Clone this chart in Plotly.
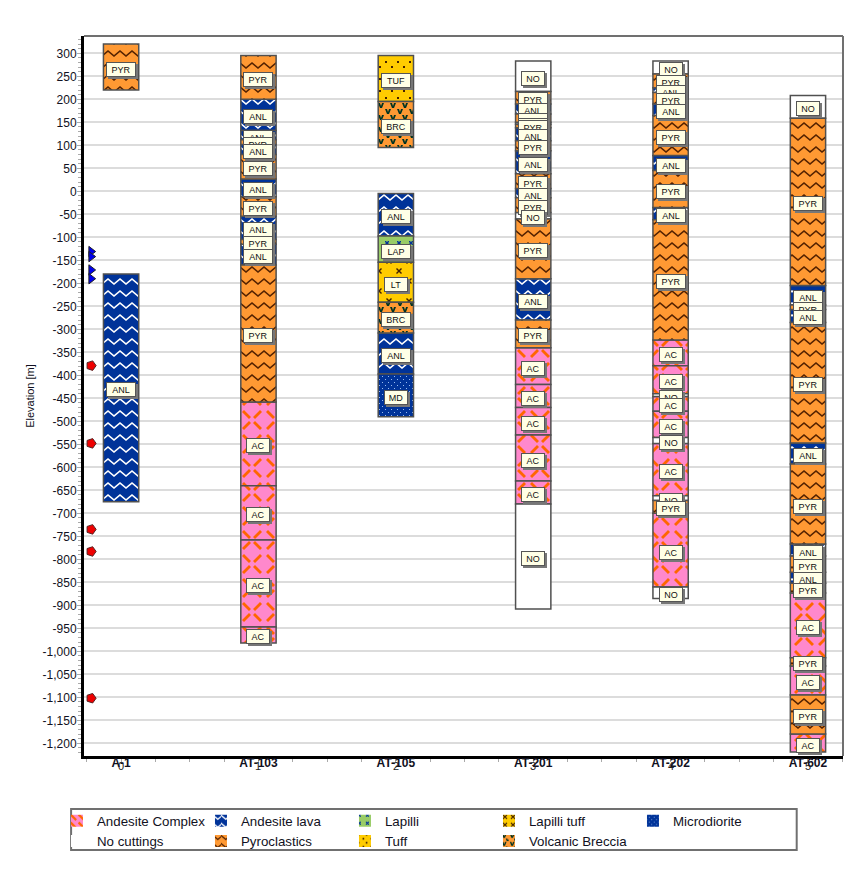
import plotly.graph_objects as go

# well names along the x axis
wells = ["A-1", "AT-103", "AT-105", "AT-201", "AT-202", "AT-602"]

# intervals per well: top elevation, bottom elevation, rock code
a1_tops = [320, -180]
a1_bottoms = [220, -675]
a1_codes = ["PYR", "ANL"]

at103_tops = [295, 200, 132, 112, 102, 80, 27, -12, -54, -105, -115, -160, -458, -640, -758, -947]
at103_bottoms = [200, 132, 112, 102, 80, 27, -12, -54, -105, -115, -160, -458, -640, -758, -947, -982]
at103_codes = ["PYR", "ANL", "ANL", "PYR", "ANL", "PYR", "ANL", "PYR", "ANL", "PYR", "ANL", "PYR", "AC", "AC", "AC", "AC"]

at105_tops = [295, 195, -5, -97, -154, -241, -308, -397]
at105_bottoms = [195, 95, -97, -154, -241, -308, -397, -490]
at105_codes = ["TUF", "BRC", "ANL", "LAP", "LT", "BRC", "ANL", "MD"]

at201_tops = [283, 217, 190, 168, 150, 146, 138, 110, 88, 38, 6, -14, -46, -60, -190, -280, -340, -420, -470, -530, -630, -680]
at201_bottoms = [217, 190, 168, 150, 146, 138, 110, 88, 38, 6, -14, -46, -60, -190, -280, -340, -420, -470, -530, -630, -680, -908]
at201_codes = ["NO", "PYR", "ANL", "PYR", "ANL", "PYR", "ANL", "PYR", "ANL", "PYR", "ANL", "PYR", "NO", "PYR", "ANL", "PYR", "AC", "AC", "AC", "AC", "AC", "NO"]

at202_tops = [283, 255, 225, 215, 190, 165, 78, 45, -35, -62, -323, -379, -440, -446, -478, -535, -548, -662, -672, -700, -860]
at202_bottoms = [255, 225, 215, 190, 165, 78, 45, -35, -62, -323, -379, -440, -446, -478, -535, -548, -662, -672, -700, -860, -885]
at202_codes = ["NO", "PYR", "ANL", "PYR", "ANL", "PYR", "ANL", "PYR", "ANL", "PYR", "AC", "AC", "NO", "AC", "AC", "NO", "AC", "NO", "PYR", "AC", "NO"]

at602_tops = [208, 159, -205, -247, -257, -285, -547, -593, -767, -793, -828, -852, -873, -1014, -1032, -1095, -1180]
at602_bottoms = [159, -205, -247, -257, -285, -547, -593, -767, -793, -828, -852, -873, -1014, -1032, -1095, -1180, -1219]
at602_codes = ["NO", "PYR", "ANL", "PYR", "ANL", "PYR", "ANL", "PYR", "ANL", "PYR", "ANL", "PYR", "AC", "PYR", "AC", "PYR", "AC"]

# flags on the left of the plot
blue_flags = [-131, -142, -171, -190]
red_flags = [-379, -548, -735, -783, -1102]

# legend order, row by row
legend_codes = ["AC", "ANL", "LAP", "LT", "MD", "NO", "PYR", "TUF", "BRC"]
legend_names = ["Andesite Complex", "Andesite lava", "Lapilli", "Lapilli tuff", "Microdiorite",
                "No cuttings", "Pyroclastics", "Tuff", "Volcanic Breccia"]

tick_vals = list(range(-1200, 301, 50))
tick_text = [f"{v:,}" for v in tick_vals]

# hatch tiles, drawn as filled svg paths
zigzag = "M0,2 L6,7 L12,2 L12,4 L6,9 L0,4 Z"
dashes = ("M1,3 L3,1 L10,8 L8,10 Z M14,8 L21,1 L23,3 L16,10 Z "
          "M1,21 L8,14 L10,16 L3,23 Z M14,16 L16,14 L23,21 L21,23 Z")
crosses = "M1,1 L2,1 L3,2 L4,1 L5,1 L5,2 L4,3 L5,4 L5,5 L4,5 L3,4 L2,5 L1,5 L1,4 L2,3 L1,2 Z"
big_crosses = ("M2,3 L3,2 L5,4 L7,2 L8,3 L6,5 L8,7 L7,8 L5,6 L3,8 L2,7 L4,5 Z "
               "M12,13 L13,12 L15,14 L17,12 L18,13 L16,15 L18,17 L17,18 L15,16 L13,18 L12,17 L14,15 Z")
dots = "M1,1 H3 V3 H1 Z M7,6 H9 V8 H7 Z"
breccia = "M1,1 L3,1 L4,4 L5,1 L7,1 L5,6 L3,6 Z M6,7 L8,7 L9,10 L10,7 L12,7 L10,12 L8,12 Z"
fine_dots = "M1,1 H2 V2 H1 Z M4,4 H5 V5 H4 Z"

styles = {
    "AC": dict(bgcolor="#FF88CC", fgcolor="#FF6600", path=dashes, size=24),
    "ANL": dict(bgcolor="#003399", fgcolor="#FFFFFF", path=zigzag, size=12),
    "LAP": dict(bgcolor="#99CC66", fgcolor="#003399", path=crosses, size=12),
    "LT": dict(bgcolor="#FFCC00", fgcolor="#442200", path=big_crosses, size=20),
    "MD": dict(bgcolor="#003399", fgcolor="#99BBEE", path=fine_dots, size=6),
    "NO": dict(bgcolor="#FFFFFF", fgcolor="#FFFFFF", path=fine_dots, size=6),
    "PYR": dict(bgcolor="#FF9933", fgcolor="#552200", path=zigzag, size=12),
    "TUF": dict(bgcolor="#FFCC00", fgcolor="#442200", path=dots, size=12),
    "BRC": dict(bgcolor="#FF9933", fgcolor="#003322", path=breccia, size=12),
}

columns = [
    (a1_tops, a1_bottoms, a1_codes),
    (at103_tops, at103_bottoms, at103_codes),
    (at105_tops, at105_bottoms, at105_codes),
    (at201_tops, at201_bottoms, at201_codes),
    (at202_tops, at202_bottoms, at202_codes),
    (at602_tops, at602_bottoms, at602_codes),
]

fig = go.Figure()

# one bar trace per rock type
for code, name in zip(legend_codes, legend_names):
    xs, bases, heights = [], [], []
    for i, (tops, bottoms, codes) in enumerate(columns):
        for top, bottom, c in zip(tops, bottoms, codes):
            if c == code:
                xs.append(i)
                bases.append(bottom)
                heights.append(top - bottom)
    fig.add_trace(go.Bar(
        x=xs, y=heights, base=bases, width=0.257, name=name, showlegend=False,
        marker=dict(color=styles[code]["bgcolor"], pattern=dict(solidity=1, fgopacity=1, **styles[code]),
                    line=dict(color="#505050", width=1.5)),
    ))

# legend swatches without the outline the bars have
for code, name in zip(legend_codes, legend_names):
    fig.add_trace(go.Bar(
        x=[None], y=[None], name=name,
        marker=dict(color=styles[code]["bgcolor"], pattern=dict(solidity=1, fgopacity=1, **styles[code]),
                    line=dict(width=0)),
    ))

fig.add_trace(go.Scatter(
    x=[-0.218] * len(blue_flags), y=blue_flags, mode="markers", showlegend=False,
    marker=dict(symbol="triangle-right", size=9, color="#0000EE", line=dict(color="#222222", width=1)),
))
fig.add_trace(go.Scatter(
    x=[-0.218] * len(red_flags), y=red_flags, mode="markers", showlegend=False,
    marker=dict(symbol="pentagon", angle=90, size=10, color="#EE0000", line=dict(color="#552222", width=1)),
))

# rock code labels at the middle of each interval, lower ones on top
label_font = dict(family="Liberation Sans", size=9, color="#111111")
for i, (tops, bottoms, codes) in enumerate(columns):
    for top, bottom, c in zip(tops, bottoms, codes):
        mid = (top + bottom) / 2
        box_w = 26 if len(c) == 3 else 20
        fig.add_annotation(x=i, y=mid, text=" ", showarrow=False, xshift=2, yshift=-4, width=box_w, height=11,
                           bgcolor="#777777", font=label_font, borderwidth=1, bordercolor="#777777")
        fig.add_annotation(x=i, y=mid, text=c, showarrow=False, yshift=-2, width=box_w, height=11,
                           bgcolor="#FFFFE6", font=label_font, borderwidth=1, bordercolor="#555555")

# small index numbers sitting under the well names
for i in range(len(wells)):
    fig.add_annotation(x=i, y=0, yref="paper", yanchor="top", yshift=-2, text=str(i), showarrow=False,
                       font=dict(family="Liberation Sans", size=11, color="#222222"))

# top and right frame lines
fig.add_shape(type="line", xref="paper", yref="paper", x0=0, x1=1, y0=1, y1=1, line=dict(color="#707070", width=2))
fig.add_shape(type="line", xref="paper", yref="paper", x0=1, x1=1, y0=0, y1=1, line=dict(color="#707070", width=2))
# legend box
fig.add_shape(type="rect", xref="paper", yref="paper", x0=-0.017, x1=0.939, y0=-0.1306, y1=-0.0736,
              line=dict(color="#707070", width=2))

fig.update_layout(
    width=852, height=870,
    margin=dict(l=76, r=17, t=28, b=122),
    barmode="overlay",
    paper_bgcolor="white", plot_bgcolor="white",
    font=dict(family="Liberation Sans", color="#111122"),
    legend=dict(
        orientation="h", x=-0.0356, xanchor="left", y=-0.069, yanchor="top",
        bgcolor="rgba(0,0,0,0)", font=dict(size=13.3),
        entrywidth=99, entrywidthmode="pixels", traceorder="normal",
    ),
    xaxis=dict(
        range=[-0.27, 5.255], tickvals=list(range(len(wells))), ticktext=wells,
        tickfont=dict(size=12, family="Liberation Sans", weight="bold"),
        ticks="outside", ticklen=3, tickcolor="#aaaaaa", showgrid=False, zeroline=False,
        showline=True, linecolor="black", linewidth=3, ticklabelstandoff=-9,
        minor=dict(dtick=0.25, tick0=0, ticks="outside", ticklen=3, tickcolor="#aaaaaa", showgrid=False),
    ),
    yaxis=dict(
        range=[-1227.6, 337.6], tickvals=tick_vals, ticktext=tick_text,
        tickfont=dict(size=12), ticks="outside", ticklen=4, tickcolor="#aaaaaa",
        showgrid=True, gridcolor="#dcdcdc", gridwidth=2, zeroline=False,
        showline=True, linecolor="black", linewidth=3, ticklabelstandoff=-2,
        minor=dict(dtick=10, ticks="outside", ticklen=3, tickcolor="#aaaaaa", showgrid=False),
        title=dict(text="Elevation [m]", font=dict(size=11), standoff=6),
    ),
)

fig.write_html("out.html")
